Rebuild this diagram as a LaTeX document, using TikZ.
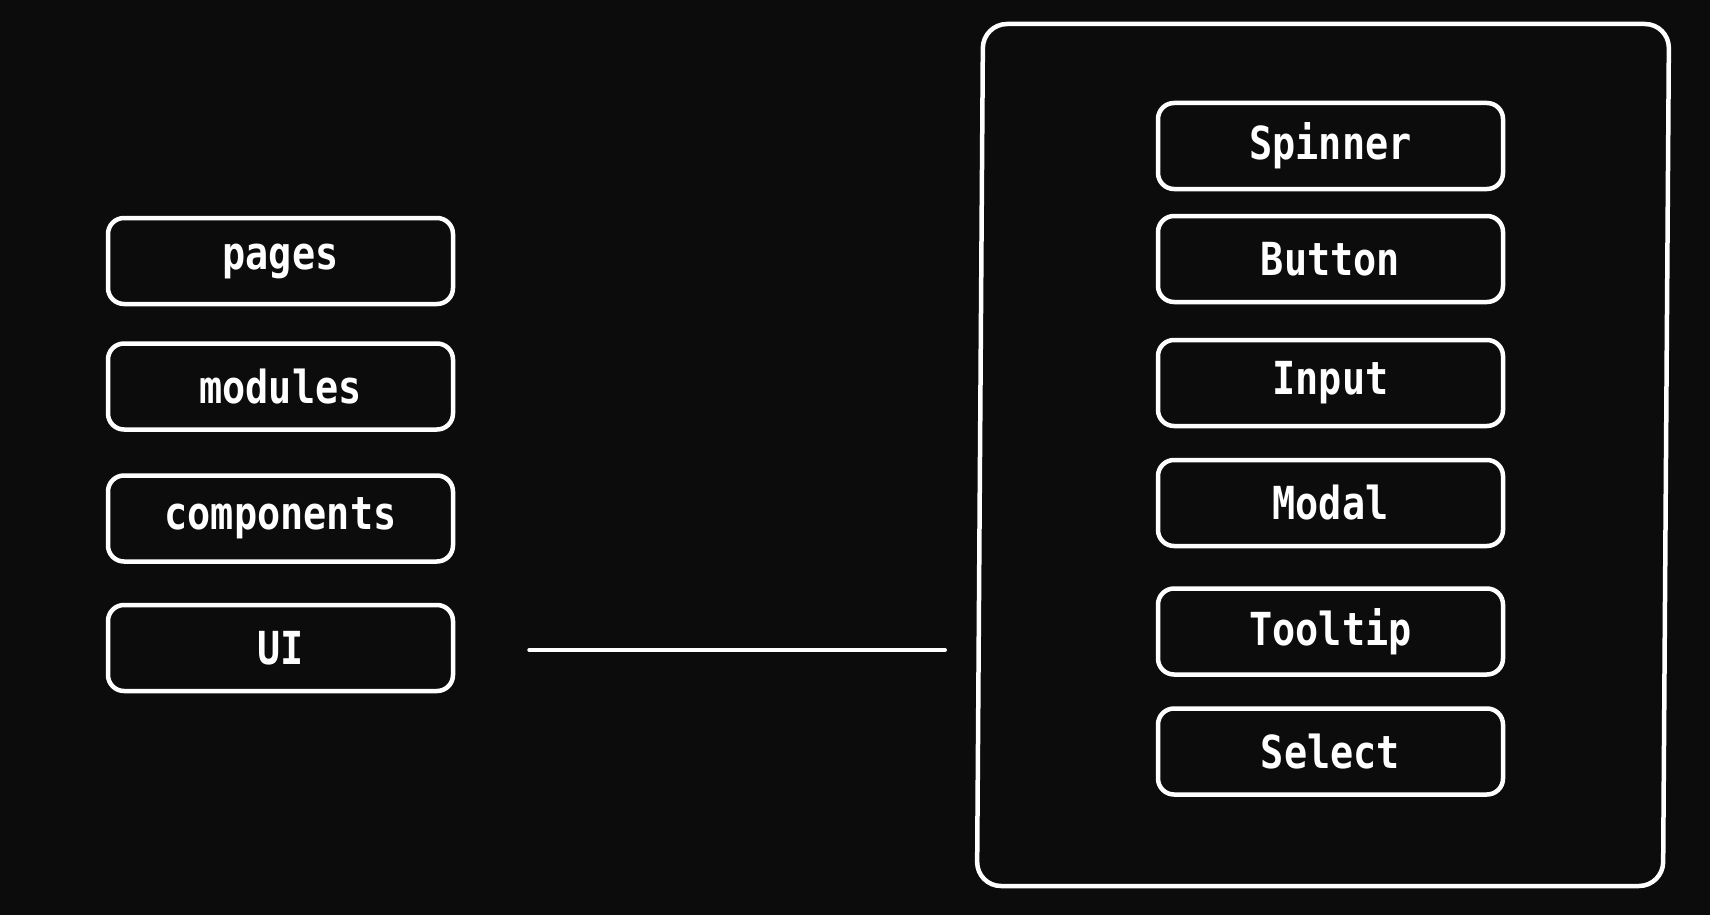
\documentclass[tikz,border=0pt]{standalone}
\usepackage{fontspec}
\setmonofont{DejaVu Sans Mono}
\definecolor{bg}{RGB}{12,12,12}
\tikzset{
  box/.style={draw=white, line width=4.5pt, rounded corners=16pt, minimum width=345pt, minimum height=86pt, fill=bg, text=white, inner sep=0pt},
  lbl/.style={font=\ttfamily\bfseries\fontsize{35}{40}\selectfont},
  wire/.style={draw=white, line width=4pt, line cap=round}
}
\newcommand{\tall}[1]{\scalebox{1.1}[1.3]{#1}}
\begin{document}
\begin{tikzpicture}[x=1pt,y=-1pt]
\fill[bg] (0,0) rectangle (1710,915);
\useasboundingbox (0,0) rectangle (1710,915);
% container
\draw[white, line width=4.5pt, rounded corners=24pt] (983,24) -- (1669,24) -- (1663,886) -- (977,886) -- cycle;
\coordinate (cont) at (980,650);
% left column
\node[box, lbl] (pages) at (280.5,261) {\tall{pages}};
\node[box, lbl] (modules) at (280.5,386.5) {\tall{modules}};
\node[box, lbl] (components) at (280.5,518.5) {\tall{components}};
\node[box, lbl] (ui) at (280.5,648) {\tall{UI}};
% right column
\node[box, lbl] (spinner) at (1330.5,146) {\tall{Spinner}};
\node[box, lbl] (button) at (1330.5,259) {\tall{Button}};
\node[box, lbl] (input) at (1330.5,383) {\tall{Input}};
\node[box, lbl] (modal) at (1330.5,503) {\tall{Modal}};
\node[box, lbl] (tooltip) at (1330.5,631.5) {\tall{Tooltip}};
\node[box, lbl] (select) at (1330.5,751.5) {\tall{Select}};
% connector
\draw[wire, shorten <=74pt, shorten >=35pt] (ui.east |- 0,650) -- (cont);
\end{tikzpicture}
\end{document}
